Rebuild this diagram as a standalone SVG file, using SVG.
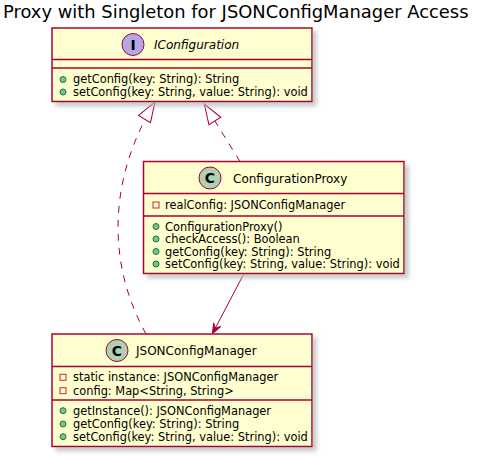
<svg xmlns="http://www.w3.org/2000/svg" width="478" height="456" viewBox="0 0 478 456">
<style>
text{font-family:"DejaVu Sans",Verdana,sans-serif;fill:#000}
.box{fill:#FEFECE;stroke:#A80036;stroke-width:1.5}
.sep{stroke:#A80036;stroke-width:1.5}
.title{font-size:17.9px}
.name{font-size:12px}
.mem{font-size:11.4px}
.pub{fill:#84BE84;stroke:#038048;stroke-width:1}
.priv{fill:none;stroke:#C82930;stroke-width:1}
.cc{fill:#ADD1B2;stroke:#A80036;stroke-width:1}
.ic{fill:#B4A7E5;stroke:#A80036;stroke-width:1}
.glyph{font-size:14px;font-weight:bold;text-anchor:middle}
.edge{fill:none;stroke:#A80036;stroke-width:1}
.dash{stroke-dasharray:7,7}
</style>
<defs>
<filter id="sh" x="-10%" y="-10%" width="130%" height="130%">
<feGaussianBlur in="SourceAlpha" stdDeviation="2"/>
<feOffset dx="4" dy="4" result="b"/>
<feColorMatrix in="b" type="matrix" values="0 0 0 0 0.5  0 0 0 0 0.5  0 0 0 0 0.5  0 0 0 0.8 0"/>
<feMerge><feMergeNode/><feMergeNode in="SourceGraphic"/></feMerge>
</filter>
<marker id="tri" markerUnits="userSpaceOnUse" viewBox="-22 -9 24 18" refX="0" refY="0" markerWidth="24" markerHeight="18" orient="auto">
<polygon points="0,0 -20,-7 -20,7" fill="#FFFFFF" stroke="#A80036" stroke-width="1"/>
</marker>
<marker id="arr" markerUnits="userSpaceOnUse" viewBox="-12 -6 14 12" refX="0" refY="0" markerWidth="14" markerHeight="12" orient="auto">
<polygon points="0,0 -10,-4 -6,0 -10,4" fill="#A80036" stroke="#A80036" stroke-width="1"/>
</marker>
</defs>
<rect width="478" height="456" fill="#FFFFFF"/>
<text class="title" x="3" y="18">Proxy with Singleton for JSONConfigManager Access</text>

<g id="connectors">
<path class="edge dash" d="M146,334 C105,260 110,175 155,102" marker-end="url(#tri)"/>
<path class="edge dash" d="M240,161.5 L204.3,104" marker-end="url(#tri)"/>
<path class="edge" d="M244,273.5 L212.5,333.5" marker-end="url(#arr)"/>
</g>

<g id="IConfiguration">
<rect class="box" x="52" y="28" width="260" height="73.5" filter="url(#sh)"/>
<line class="sep" x1="52" y1="59.5" x2="312" y2="59.5"/>
<line class="sep" x1="52" y1="68" x2="312" y2="68"/>
<circle class="ic" cx="133" cy="44.5" r="11"/>
<text class="glyph" x="133" y="49.5">I</text>
<text class="name" x="154" y="48.5" font-style="italic">IConfiguration</text>
<circle class="pub" cx="63" cy="79.5" r="3"/>
<text class="mem" x="73" y="83.3">getConfig(key: String): String</text>
<circle class="pub" cx="63" cy="92" r="3"/>
<text class="mem" x="73" y="95.8">setConfig(key: String, value: String): void</text>
</g>

<g id="ConfigurationProxy">
<rect class="box" x="143.5" y="161.5" width="260.5" height="112" filter="url(#sh)"/>
<line class="sep" x1="143.5" y1="193.5" x2="404" y2="193.5"/>
<line class="sep" x1="143.5" y1="216" x2="404" y2="216"/>
<circle class="cc" cx="210" cy="178" r="11"/>
<text class="glyph" x="210" y="183">C</text>
<text class="name" x="233" y="182.5">ConfigurationProxy</text>
<rect class="priv" x="153" y="202" width="6" height="6"/>
<text class="mem" x="165" y="209">realConfig: JSONConfigManager</text>
<circle class="pub" cx="156" cy="226.5" r="3"/>
<text class="mem" x="165" y="230.5">ConfigurationProxy()</text>
<circle class="pub" cx="156" cy="239" r="3"/>
<text class="mem" x="165" y="243">checkAccess(): Boolean</text>
<circle class="pub" cx="156" cy="251.5" r="3"/>
<text class="mem" x="165" y="255.5">getConfig(key: String): String</text>
<circle class="pub" cx="156" cy="264" r="3"/>
<text class="mem" x="165" y="268">setConfig(key: String, value: String): void</text>
</g>

<g id="JSONConfigManager">
<rect class="box" x="52" y="334" width="260" height="112.5" filter="url(#sh)"/>
<line class="sep" x1="52" y1="366.5" x2="312" y2="366.5"/>
<line class="sep" x1="52" y1="400" x2="312" y2="400"/>
<circle class="cc" cx="117" cy="350.5" r="11"/>
<text class="glyph" x="117" y="355.5">C</text>
<text class="name" x="136" y="355">JSONConfigManager</text>
<rect class="priv" x="60" y="374.3" width="6" height="6"/>
<text class="mem" x="73" y="381.3">static instance: JSONConfigManager</text>
<rect class="priv" x="60" y="387.7" width="6" height="6"/>
<text class="mem" x="73" y="394.7">config: Map&lt;String, String&gt;</text>
<circle class="pub" cx="63" cy="410.7" r="3"/>
<text class="mem" x="73" y="414.7">getInstance(): JSONConfigManager</text>
<circle class="pub" cx="63" cy="424" r="3"/>
<text class="mem" x="73" y="428">getConfig(key: String): String</text>
<circle class="pub" cx="63" cy="436.7" r="3"/>
<text class="mem" x="73" y="440.7">setConfig(key: String, value: String): void</text>
</g>
</svg>
